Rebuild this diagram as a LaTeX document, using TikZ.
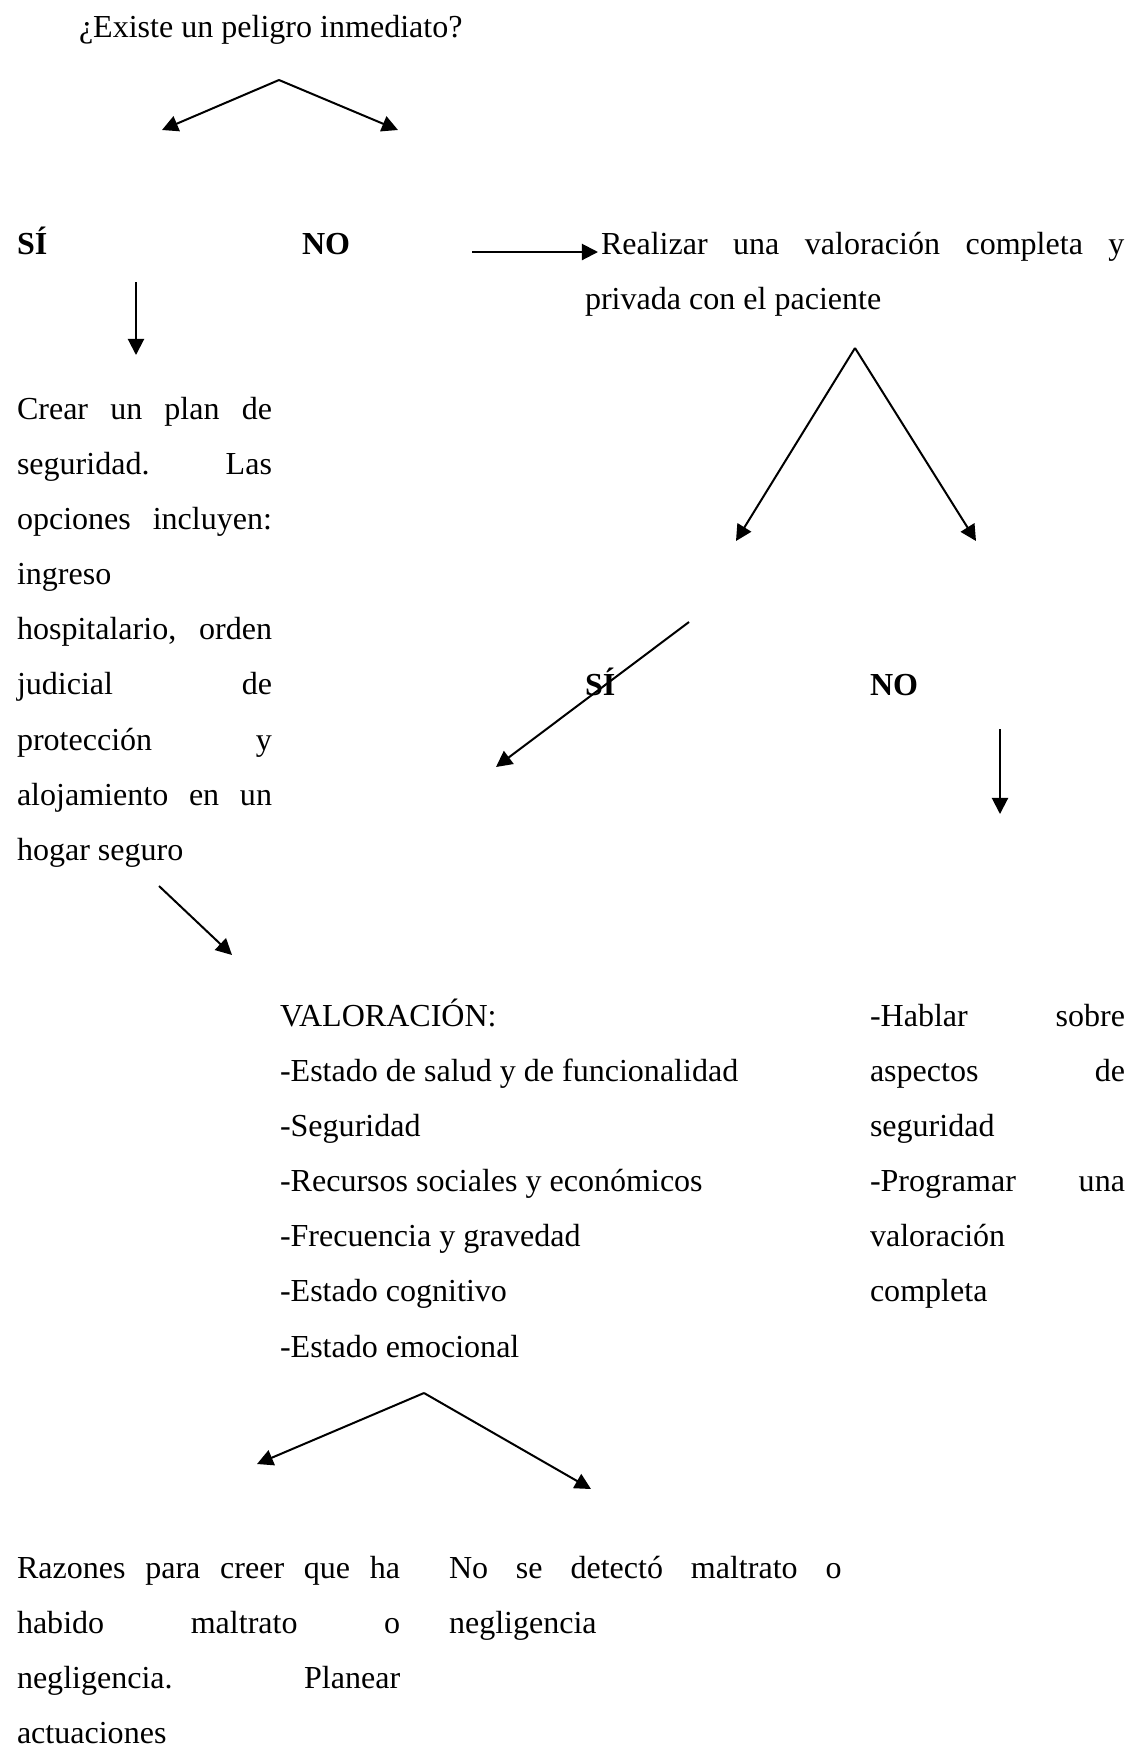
\documentclass[tikz,border=0pt]{standalone}
\usepackage{fontspec}
\setmainfont{Liberation Serif}
\usetikzlibrary{arrows.meta}
\frenchspacing
\newcommand{\spread}[2]{\makebox[#1][s]{\spaceskip=0pt\xspaceskip=0pt #2}}
\tikzset{
  txt/.style={anchor=base west, inner sep=0pt, font=\fontsize{12}{20.67}\selectfont, align=justify},
  resp/.style={txt, font=\fontsize{12}{20.67}\selectfont\bfseries},
}
\begin{document}
\begin{tikzpicture}[x=0.3745pt, y=-0.3745pt, line width=0.75pt, >={Triangle[length=6pt,width=6pt]}]
    \useasboundingbox (0,0) rectangle (1132,1749);

    \node[txt] (pregunta) at (78,37) {¿Existe un peligro inmediato?};
    \node[resp] (si) at (16,254) {SÍ};
    \node[resp] (no) at (301,254) {NO};
    \node[txt] (realizar) at (600,254) {\spread{196pt}{Realizar una valoración completa y}};
    \node[txt] (privada) at (584,309) {privada con el paciente};
    \node[txt, text width=95.5pt] (plan) at (16,419) {\spread{95.5pt}{Crear un plan de}\\ \spread{95.5pt}{seguridad. Las}\\ \spread{95.5pt}{opciones incluyen:}\\ ingreso\\ \spread{95.5pt}{hospitalario, orden}\\ \spread{95.5pt}{judicial de}\\ \spread{95.5pt}{protección y}\\ \spread{95.5pt}{alojamiento en un}\\ hogar seguro};
    \node[resp] (si2) at (584,695) {SÍ};
    \node[resp] (no2) at (869,695) {NO};
    \node[txt, text width=220pt] (valoracion) at (279,1026) {VALORACIÓN:\\ -Estado de salud y de funcionalidad\\ -Seguridad\\ -Recursos sociales y económicos\\ -Frecuencia y gravedad\\ -Estado cognitivo\\ -Estado emocional};
    \node[txt, text width=95.5pt] (hablar) at (869,1026) {\spread{95.5pt}{-Hablar sobre}\\ \spread{95.5pt}{aspectos de}\\ seguridad\\ \spread{95.5pt}{-Programar una}\\ valoración\\ completa};
    \node[txt, text width=143.5pt] (razones) at (16,1578) {\spread{143.5pt}{Razones para creer que ha}\\ \spread{143.5pt}{habido maltrato o}\\ \spread{143.5pt}{negligencia. Planear}\\ actuaciones};
    \node[txt, text width=147pt] (nodetectado) at (448,1578) {\spread{147pt}{No se detectó maltrato o}\\ negligencia};

    \coordinate (pico1) at (279,80);
    \coordinate (izq1) at (162,130);
    \coordinate (der1) at (398,130);
    \coordinate (no inicio) at (472,252);
    \coordinate (no fin) at (598,252);
    \coordinate (si inicio) at (136,282);
    \coordinate (si fin) at (136,355);
    \coordinate (pico2) at (855,348);
    \coordinate (izq2) at (736,541);
    \coordinate (der2) at (976,541);
    \coordinate (si2 inicio) at (689,622);
    \coordinate (si2 fin) at (496,767);
    \coordinate (no2 inicio) at (1000,729);
    \coordinate (no2 fin) at (1000,814);
    \coordinate (plan inicio) at (159,886);
    \coordinate (plan fin) at (232,955);
    \coordinate (pico3) at (424,1393);
    \coordinate (izq3) at (257,1464);
    \coordinate (der3) at (591,1489);

    \path [->] (pico1) edge node {} (izq1);
    \path [->] (pico1) edge node {} (der1);
    \path [->] (no inicio) edge node {} (no fin);
    \path [->] (si inicio) edge node {} (si fin);
    \path [->] (pico2) edge node {} (izq2);
    \path [->] (pico2) edge node {} (der2);
    \path [->] (si2 inicio) edge node {} (si2 fin);
    \path [->] (no2 inicio) edge node {} (no2 fin);
    \path [->] (plan inicio) edge node {} (plan fin);
    \path [->] (pico3) edge node {} (izq3);
    \path [->] (pico3) edge node {} (der3);
\end{tikzpicture}
\end{document}
